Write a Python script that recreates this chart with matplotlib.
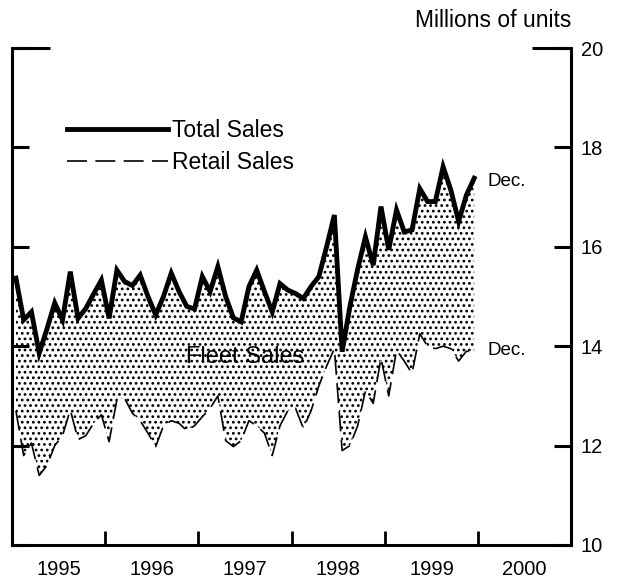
import matplotlib

matplotlib.use("Agg")
import matplotlib.pyplot as plt
import numpy as np

plt.rcParams["font.family"] = ["Liberation Sans", "DejaVu Sans"]
plt.rcParams["hatch.linewidth"] = 1.2

# monthly, Jan 1995 .. Dec 1999, millions of units (annual rate)
total_sales = [
    15.37, 14.53, 14.69, 13.86, 14.35, 14.87, 14.53, 15.50, 14.56, 14.76, 15.05, 15.33,
    14.56, 15.53, 15.30, 15.22, 15.43, 15.00, 14.63, 15.00, 15.47, 15.10, 14.80, 14.75,
    15.40, 15.10, 15.60, 15.00, 14.57, 14.49, 15.20, 15.53, 15.10, 14.69, 15.26, 15.13,
    15.06, 14.96, 15.20, 15.40, 16.00, 16.64, 13.89, 14.80, 15.55, 16.20, 15.63, 16.81,
    15.94, 16.74, 16.30, 16.34, 17.17, 16.91, 16.91, 17.61, 17.14, 16.51, 17.04, 17.38,
]
retail_sales = [
    12.70, 11.80, 12.05, 11.40, 11.60, 12.00, 12.20, 12.72, 12.12, 12.20, 12.45, 12.62,
    12.08, 12.92, 12.95, 12.65, 12.50, 12.25, 11.98, 12.40, 12.50, 12.45, 12.30, 12.40,
    12.58, 12.75, 13.00, 12.10, 11.98, 12.10, 12.50, 12.40, 12.25, 11.80, 12.40, 12.70,
    12.75, 12.35, 12.70, 13.20, 13.60, 13.95, 11.90, 12.00, 12.40, 13.10, 12.85, 13.76,
    13.00, 13.92, 13.70, 13.45, 14.25, 14.00, 13.95, 14.00, 13.95, 13.70, 13.90, 13.88,
]
years = [1995, 1996, 1997, 1998, 1999, 2000]
y_ticks = [10, 12, 14, 16, 18, 20]

t = 1995 + (np.arange(len(total_sales)) + 0.5) / 12

fig = plt.figure(figsize=(6.2, 5.84), dpi=100)
ax = fig.add_axes([0.0194, 0.0668, 0.902, 0.851])

ax.fill_between(t, retail_sales, total_sales, facecolor="white", edgecolor="black",
                hatch="...", linewidth=0)
ax.plot(t, total_sales, color="black", lw=3.5, solid_joinstyle="miter",
        label="Total Sales")
ax.plot(t, retail_sales, color="black", lw=1.2, dashes=(12, 5), label="Retail Sales")

ax.set_xlim(1995, 2001)
ax.set_ylim(10, 20)

ax.set_xticks(years[1:])
ax.set_xticklabels([])
ax.set_xticks([y + 0.5 for y in years], minor=True)
ax.set_xticklabels([str(y) for y in years], minor=True)
ax.tick_params(axis="x", which="major", direction="in", length=10, width=2)
ax.tick_params(axis="x", which="minor", length=0, pad=11, labelsize=14.5)

ax.set_yticks(y_ticks)
ax.tick_params(axis="y", direction="in", length=12, width=2.2, left=True, right=True,
               labelleft=False, labelright=True, pad=7, labelsize=14.5)

ax.spines["top"].set_visible(False)
for s in ("left", "right", "bottom"):
    ax.spines[s].set_linewidth(2.2)
# partial top frame
ax.plot([0, 0.068], [1, 1], transform=ax.transAxes, color="black", lw=2.2,
        clip_on=False, solid_capstyle="butt")
ax.plot([0.93, 1.0], [1, 1], transform=ax.transAxes, color="black", lw=2.2,
        clip_on=False, solid_capstyle="butt")

ax.legend(loc="upper left", bbox_to_anchor=(0.098, 0.858), frameon=False,
          handlelength=4.4, handletextpad=0.2, labelspacing=0.4, borderpad=0,
          borderaxespad=0, fontsize=16.5)

ax.text(1997.5, 13.78, "Fleet Sales", ha="center", va="center", fontsize=17)
ax.text(2000.1, 17.32, "Dec.", ha="left", va="center", fontsize=13.5)
ax.text(2000.1, 13.92, "Dec.", ha="left", va="center", fontsize=13.5)
ax.text(1.0, 1.056, "Millions of units", transform=ax.transAxes, ha="right",
        va="center", fontsize=16.5)

fig.savefig("out.png", dpi=100)
